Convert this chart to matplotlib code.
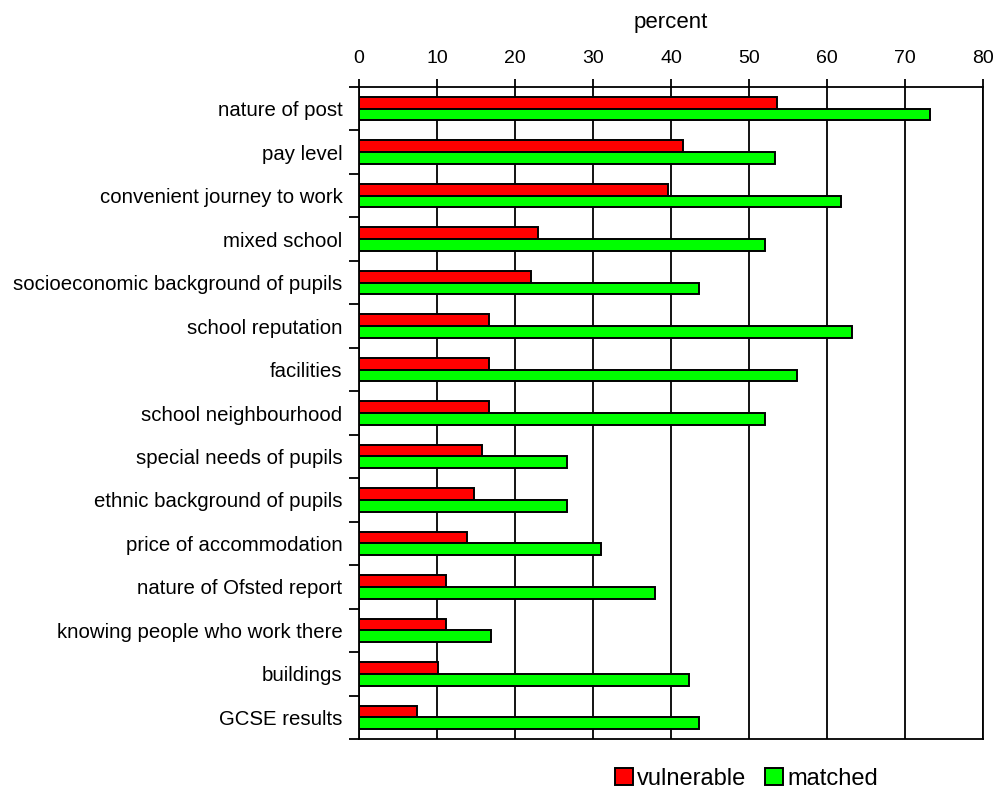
import matplotlib.pyplot as plt
import numpy as np
from matplotlib.patches import Patch
from matplotlib.ticker import FixedLocator, NullFormatter

plt.rcParams["font.family"] = ["Liberation Sans", "DejaVu Sans"]

categories = [
    "nature of post",
    "pay level",
    "convenient journey to work",
    "mixed school",
    "socioeconomic background of pupils",
    "school reputation",
    "facilities",
    "school neighbourhood",
    "special needs of pupils",
    "ethnic background of pupils",
    "price of accommodation",
    "nature of Ofsted report",
    "knowing people who work there",
    "buildings",
    "GCSE results",
]
vulnerable = [53.6, 41.5, 39.6, 23.0, 22.1, 16.7, 16.7, 16.7, 15.8, 14.8, 13.9, 11.1, 11.1, 10.2, 7.4]
matched = [73.2, 53.3, 61.8, 52.0, 43.6, 63.2, 56.2, 52.0, 26.7, 26.7, 31.0, 37.9, 16.9, 42.3, 43.6]
x_ticks = [0, 10, 20, 30, 40, 50, 60, 70, 80]

fig = plt.figure(figsize=(9.97, 7.91), dpi=100)
ax = fig.add_axes([0.360, 0.0657, 0.626, 0.8243])

y = np.arange(len(categories))
h = 0.27
ax.barh(y - h / 2, vulnerable, height=h, color="#ff0000", edgecolor="black", linewidth=1.4, zorder=3)
ax.barh(y + h / 2, matched, height=h, color="#00ff00", edgecolor="black", linewidth=1.4, zorder=3)

ax.set_xlim(0, 80)
ax.set_ylim(len(categories) - 0.5, -0.5)

# x axis on top
ax.xaxis.tick_top()
ax.xaxis.set_label_position("top")
ax.set_xticks(x_ticks)
ax.set_xlabel("percent", fontsize=16, labelpad=16)
ax.tick_params(axis="x", direction="out", length=6, width=1.3, pad=8.5, labelsize=14)
ax.grid(axis="x", color="black", linewidth=1.3, zorder=1)

# category labels centered, ticks at the boundaries
ax.set_yticks(y)
ax.set_yticklabels(categories)
ax.tick_params(axis="y", which="major", length=0, pad=12, labelsize=14.7)
ax.yaxis.set_minor_locator(FixedLocator(np.arange(-0.5, len(categories), 1.0)))
ax.yaxis.set_minor_formatter(NullFormatter())
ax.tick_params(axis="y", which="minor", direction="out", length=7, width=1.3)

for s in ax.spines.values():
    s.set_linewidth(1.3)
    s.set_color("black")

handles = [
    Patch(facecolor="#ff0000", edgecolor="black", linewidth=1.4, label="vulnerable"),
    Patch(facecolor="#00ff00", edgecolor="black", linewidth=1.4, label="matched"),
]
fig.legend(handles=handles, loc="center", bbox_to_anchor=(0.749, 0.0155), ncol=2,
           frameon=False, fontsize=17, handlelength=0.75, handleheight=0.75,
           handletextpad=0.2, columnspacing=0.8, borderpad=0.1)

fig.savefig("out.png", dpi=100)
